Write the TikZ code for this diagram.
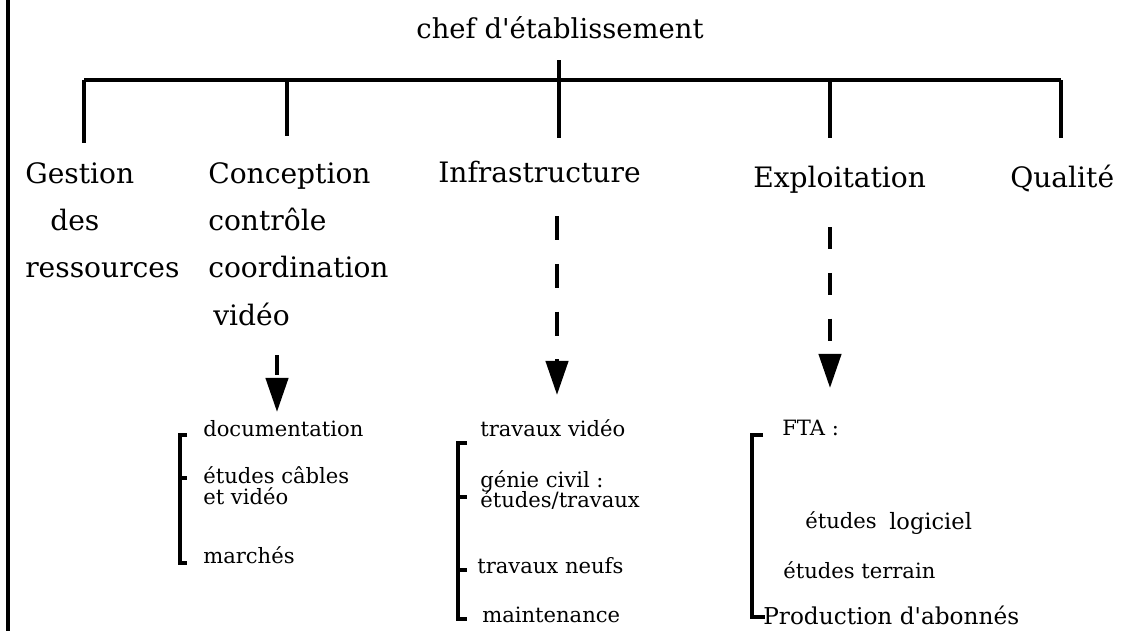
\documentclass[tikz,border=0pt]{standalone}
\usepackage{fontspec}
\setmainfont{DejaVu Serif}
\usetikzlibrary{arrows.meta}

\begin{document}
\begin{tikzpicture}[x=0.025cm, y=-0.025cm,
  big/.style={font=\fontsize{20}{24}\selectfont, anchor=base west, inner sep=0pt},
  small/.style={font=\fontsize{15}{18}\selectfont, anchor=base west, inner sep=0pt},
  treeline/.style={draw=black, line width=2.8pt},
  bracketl/.style={draw=black, line width=2.5pt},
  dashar/.style={draw=black, line width=3pt, -{Triangle[width=0.55cm, length=0.85cm]}}
]
  \useasboundingbox (0,0) rectangle (1122,631);
  % ===== left border =====
  \draw[line width=3pt] (8,0) -- (8,631);

  % ===== head and tree =====
  \node[big, font=\fontsize{19.5}{23}\selectfont, anchor=base] (chef) at (560,38) {chef d\textquotesingle établissement};
  \coordinate (hubT) at (559,60);
  \coordinate (hubB) at (559,138);
  \coordinate (barW) at (84,80);
  \coordinate (barE) at (1061,80);
  \draw[treeline] (hubT) -- (hubB);
  \draw[treeline] (barW) -- (barE);
  \foreach \nm/\x/\y in {dgest/84/143, dconc/287/136, dexpl/830/138, dqual/1061/138} {
    \coordinate (\nm) at (\x,\y);
    \draw[treeline] (\x,80) -- (\nm);
  }

  % ===== departments =====
  \node[big] (gest)  at (25,183)   {Gestion};
  \node[big] (gdes)  at (50,230)   {des};
  \node[big] (gres)  at (25,277)   {ressources};
  \node[big] (conc)  at (208,183)  {Conception};
  \node[big] (cctl)  at (208,230)  {contrôle};
  \node[big] (ccoo)  at (208,277)  {coordination};
  \node[big] (cvid)  at (213,325)  {vidéo};
  \node[big] (infra) at (438,182)  {Infrastructure};
  \node[big] (expl)  at (753,187)  {Exploitation};
  \node[big] (qual)  at (1010,187) {Qualité};

  % ===== dashed arrows =====
  \coordinate (caT) at (277,355);  \coordinate (caB) at (277,412);
  \coordinate (iaT) at (557,216);  \coordinate (iaB) at (557,395);
  \coordinate (eaT) at (830,227);  \coordinate (eaB) at (830,388);
  \draw[dashar, dash pattern=on 14pt off 5pt]     (caT) -- (caB);
  \draw[dashar, dash pattern=on 17pt off 17pt]    (iaT) -- (iaB);
  \draw[dashar, dash pattern=on 15.6pt off 17pt]  (eaT) -- (eaB);

  % ===== Conception list =====
  \node[small] (doc) at (203,436) {documentation};
  \node[small] (etc) at (203,483) {études câbles};
  \node[small] (etv) at (203,504) {et vidéo};
  \node[small] (mar) at (203,563) {marchés};
  \draw[bracketl] (187,435) -- (180,435) -- (180,563) -- (187,563);
  \draw[bracketl] (180,478) -- (187,478);

  % ===== Infrastructure list =====
  \node[small] (trv) at (480,436) {travaux vidéo};
  \node[small] (gen) at (480,487) {génie civil :};
  \node[small] (etr) at (480,507) {études/travaux};
  \node[small] (trn) at (477,573) {travaux neufs};
  \node[small] (mnt) at (482,622) {maintenance};
  \draw[bracketl] (467,443) -- (458,443) -- (458,619) -- (467,619);
  \draw[bracketl] (458,497) -- (467,497);
  \draw[bracketl] (458,570) -- (467,570);

  % ===== Exploitation list =====
  \node[small] (fta)  at (782,435) {FTA :};
  \node[small] (etu)  at (805,528) {études};
  \node[small, font=\fontsize{16}{19}\selectfont] (logi) at (889,529) {logiciel};
  \node[small] (ett)  at (783,578) {études terrain};
  \node[small, font=\fontsize{16.5}{20}\selectfont] (prod) at (763,624) {Production d\textquotesingle abonnés};
  \draw[bracketl] (763,435) -- (752,435) -- (752,617) -- (765,617);
\end{tikzpicture}
\end{document}
